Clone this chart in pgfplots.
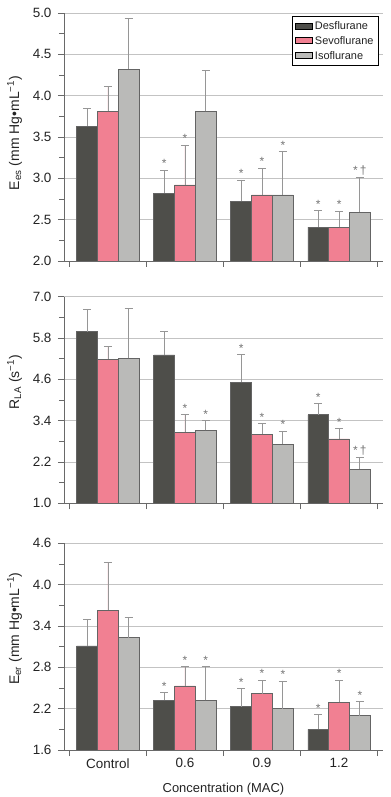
\documentclass[border=0pt]{standalone}
\usepackage{fontspec}
\setmainfont{Liberation Sans}
\usepackage{pgfplots}
\pgfplotsset{compat=1.18}
\usepackage{pgfplotstable}

\definecolor{des}{RGB}{78,78,74}
\definecolor{sevo}{RGB}{241,128,146}
\definecolor{iso}{RGB}{186,186,184}
\definecolor{edge}{RGB}{100,100,100}
\definecolor{gridc}{RGB}{195,195,195}
\definecolor{axc}{RGB}{105,105,105}
\definecolor{errc}{RGB}{150,150,150}
\definecolor{starc}{RGB}{115,115,115}
\definecolor{txt}{RGB}{35,35,35}

% columns: group position, value, error (upper) for each agent
\pgfplotstableread{
x des dese sevo sevoe iso isoe
0 3.63 0.21 3.81 0.30 4.32 0.61
1 2.82 0.28 2.92 0.48 3.81 0.50
2 2.72 0.26 2.80 0.32 2.80 0.52
3 2.41 0.20 2.41 0.19 2.59 0.42
}\tabA
\pgfplotstableread{
x des dese sevo sevoe iso isoe
0 5.98 0.65 5.18 0.38 5.21 1.45
1 5.31 0.67 3.07 0.50 3.12 0.28
2 4.52 0.79 3.01 0.30 2.72 0.37
3 3.57 0.32 2.87 0.30 1.99 0.35
}\tabB
\pgfplotstableread{
x des dese sevo sevoe iso isoe
0 3.11 0.39 3.63 0.70 3.23 0.29
1 2.32 0.11 2.53 0.28 2.32 0.49
2 2.23 0.26 2.42 0.19 2.20 0.40
3 1.90 0.21 2.29 0.32 2.10 0.20
}\tabC
% significance marks: x position, top of error bar
\pgfplotstableread{
x y
0.73 3.10
1.00 3.40
1.73 2.98
2.00 3.12
2.27 3.32
2.73 2.61
3.00 2.60
}\starA
\pgfplotstableread{
x y
3.27 3.01
}\dagA
\pgfplotstableread{
x y
1.00 3.57
1.27 3.40
1.73 5.31
2.00 3.31
2.27 3.09
2.73 3.89
3.00 3.17
}\starB
\pgfplotstableread{
x y
3.27 2.34
}\dagB
\pgfplotstableread{
x y
0.73 2.43
1.00 2.81
1.27 2.81
1.73 2.49
2.00 2.61
2.27 2.60
2.73 2.11
3.00 2.61
3.27 2.30
}\starC

\pgfplotsset{
  panel/.style={
    scale only axis, width=319bp,
    xmin=-0.57, xmax=3.57,
    axis lines=left, axis line style={-, draw=axc, line width=0.9bp},
    tick align=outside, major tick length=6bp, minor tick length=5bp,
    tick style={draw=axc, line width=0.7bp},
    xtick={-0.5,0.5,1.5,2.5,3.5}, xticklabels={},
    ymajorgrids, grid style={draw=gridc, line width=0.8bp},
    minor y tick num=1,
    /pgf/number format/assume math mode=true,
    yticklabel style={/pgf/number format/fixed,/pgf/number format/fixed zerofill,/pgf/number format/precision=1, xshift=-3bp},
    tick label style={font=\fontsize{13.5}{15}\selectfont, text=txt},
    ylabel style={font=\fontsize{14}{16}\selectfont, text=txt, yshift=4bp},
    xlabel style={font=\fontsize{13}{15}\selectfont, text=txt, yshift=-2bp},
  },
  mybar/.style={ybar, bar width=0.27, bar shift=0, draw=edge, line width=0.7bp,
    legend image code/.code={\draw[##1, draw=black, line width=1bp] (0bp,-3bp) rectangle (17bp,3bp);},
    error bars/y dir=plus, error bars/y explicit,
    error bars/error bar style={draw=errc, line width=0.8bp},
    error bars/error mark options={rotate=90, draw=errc, line width=0.8bp, mark size=4bp}},
  stars/.style={draw=none, mark=none, forget plot, nodes near coords={#1},
    nodes near coords style={anchor=base, inner sep=0pt, yshift=2.5bp, font=\fontsize{12}{14}\selectfont, text=starc}},
}

\begin{document}
\begin{tikzpicture}
\useasboundingbox (0,0) rectangle (391bp,797bp);

% ---------- panel 1 ----------
\begin{axis}[panel, at={(64bp,536bp)}, anchor=south west, height=248bp,
  ymin=2.0, ymax=5.0, ytick={2.0,2.5,...,5.0},
  ylabel={E\textsubscript{es} (mm Hg\textbullet mL\textsuperscript{−1})},
  ylabel style={xshift=4bp},
  legend style={at={(0.987,0.988)}, anchor=north east, draw=black, line width=0.8bp,
    fill=white, font=\fontsize{11}{13}\selectfont, text=txt, inner sep=3bp, row sep=1.5bp, cells={anchor=west}},
]
\addplot[mybar, fill=des] table[x expr=\thisrow{x}-0.27, y=des, y error=dese] {\tabA};
\addlegendentry{Desflurane}
\addplot[mybar, fill=sevo] table[x=x, y=sevo, y error=sevoe] {\tabA};
\addlegendentry{Sevoflurane}
\addplot[mybar, fill=iso] table[x expr=\thisrow{x}+0.27, y=iso, y error=isoe] {\tabA};
\addlegendentry{Isoflurane}
\addplot[stars={*}] table[x=x, y=y] {\starA};
\addplot[stars={*\,\textdagger}] table[x=x, y=y] {\dagA};
\end{axis}

% ---------- panel 2 ----------
\begin{axis}[panel, at={(64bp,293.7bp)}, anchor=south west, height=206.6bp,
  ymin=1.0, ymax=7.0, ytick={1.0,2.2,...,7.0},
  ylabel={R\textsubscript{LA} (s\textsuperscript{−1})},
  ylabel style={xshift=18bp},
]
\addplot[mybar, fill=des] table[x expr=\thisrow{x}-0.27, y=des, y error=dese] {\tabB};
\addplot[mybar, fill=sevo] table[x=x, y=sevo, y error=sevoe] {\tabB};
\addplot[mybar, fill=iso] table[x expr=\thisrow{x}+0.27, y=iso, y error=isoe] {\tabB};
\addplot[stars={*}] table[x=x, y=y] {\starB};
\addplot[stars={*\,\textdagger}] table[x=x, y=y] {\dagB};
\end{axis}

% ---------- panel 3 ----------
\begin{axis}[panel, at={(64bp,47bp)}, anchor=south west, height=206.7bp,
  ymin=1.6, ymax=4.6, ytick={1.6,2.2,...,4.6},
  ylabel={E\textsubscript{er} (mm Hg\textbullet mL\textsuperscript{−1})},
  ylabel style={xshift=18bp},
  extra x ticks={0,1,2,3}, extra x tick labels={Control,0.6,0.9,1.2},
  extra x tick style={major tick length=0pt, grid=none, tick label style={yshift=-5bp}},
  xlabel={Concentration (MAC)},
]
\addplot[mybar, fill=des] table[x expr=\thisrow{x}-0.27, y=des, y error=dese] {\tabC};
\addplot[mybar, fill=sevo] table[x=x, y=sevo, y error=sevoe] {\tabC};
\addplot[mybar, fill=iso] table[x expr=\thisrow{x}+0.27, y=iso, y error=isoe] {\tabC};
\addplot[stars={*}] table[x=x, y=y] {\starC};
\end{axis}
\end{tikzpicture}
\end{document}
